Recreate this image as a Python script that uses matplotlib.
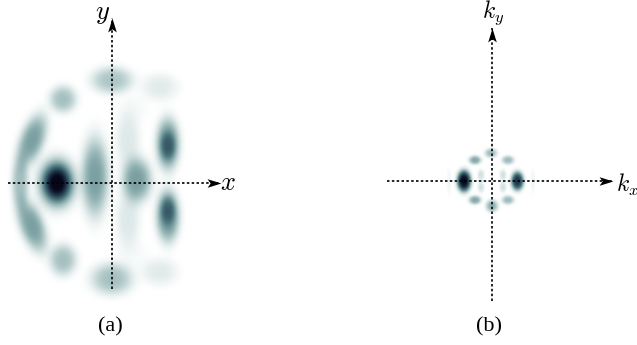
import numpy as np
import matplotlib.pyplot as plt
from matplotlib.colors import LinearSegmentedColormap
from matplotlib.markers import MarkerStyle
from matplotlib.path import Path
from matplotlib.transforms import Affine2D

plt.rcParams["mathtext.fontset"] = "cm"

# density lobes: offset from the axes crossing (px), peak, widths, tilt (deg)
a_x = [-55, -55, -80, -80, -92, -17, 25, 16, 16, 56, 56, 56, 56, 0, 0, -49, -49, 48, 48, 22, 22]
a_y = [0, 0, 43, -43, 0, 6, 3, 43, -37, 39, -33, 37, -27, 103, -96, 84, -77, 96, -89, 74, -72]
a_amp = [0.55, 0.5, 0.36, 0.36, 0.24, 0.36, 0.36, 0.09, 0.09, 0.42, 0.42, 0.22, 0.22, 0.22, 0.24, 0.24, 0.24, 0.08, 0.08, 0.02, 0.02]
a_sx = [15, 10, 10, 10, 7, 11, 12, 10, 10, 9.5, 9.5, 6, 6, 17, 17, 11, 11, 15, 15, 14, 14]
a_sy = [20, 13, 22, 22, 22, 32, 18, 24, 24, 21, 21, 11, 11, 11, 13, 11, 13, 11, 11, 12, 12]
a_tilt = [0, 0, -20, 20, 0, 0, 0, 0, 0, 0, 0, 0, 0, 0, 0, 0, 0, 0, 0, 0, 0]

b_x = [-28, 25.5, -17, 16, -1, -17, 16, 0, -11, 11, -11, 11, -43, 41]
b_y = [0, 0, 21, 21, 28, -19, -19, -25, 6, 6, -6, -6, 0, 0]
b_amp = [1.0, 0.8, 0.33, 0.26, 0.26, 0.33, 0.26, 0.3, 0.12, 0.12, 0.12, 0.12, 0.04, 0.04]
b_sx = [5.5, 5, 5, 5, 5, 5, 5, 5, 2.8, 2.8, 2.8, 2.8, 1.8, 1.8]
b_sy = [8.5, 7.5, 3.6, 3.6, 3.8, 3.6, 3.6, 5, 4.5, 4.5, 4.5, 4.5, 10, 10]
b_tilt = [0] * 14

cmap = LinearSegmentedColormap.from_list(
    "dens",
    [(0, "#ffffff"), (0.15, "#c8d9d9"), (0.3, "#8fb0b1"), (0.5, "#4f7a80"), (0.75, "#243f52"), (1, "#07071c")],
)

# stealth style arrow head, pointing right
head = Path(
    [(1, 0), (-1, 0.62), (-0.55, 0), (-1, -0.62), (1, 0)],
    [Path.MOVETO, Path.LINETO, Path.LINETO, Path.LINETO, Path.CLOSEPOLY],
)


def density(xs, ys, amps, sxs, sys, tilts, half):
    gx, gy = np.meshgrid(np.linspace(-half, half, 500), np.linspace(-half, half, 500))
    z = np.zeros_like(gx)
    for x0, y0, amp, sx, sy, tilt in zip(xs, ys, amps, sxs, sys, tilts):
        t = np.radians(tilt)
        u = (gx - x0) * np.cos(t) + (gy - y0) * np.sin(t)
        v = -(gx - x0) * np.sin(t) + (gy - y0) * np.cos(t)
        # flatter top and firmer edge than a plain gaussian
        r2 = (u / sx) ** 2 + (v / sy) ** 2
        z += amp * np.exp(-0.6 * r2**1.5)
    return z


def dotted_arrow(ax, start, end, angle):
    ax.plot([start[0], end[0]], [start[1], end[1]], color="black", lw=1.2, ls=(0, (1.5, 1.4)), zorder=3)
    back = 6.5
    mx = end[0] - back * np.cos(np.radians(angle))
    my = end[1] + back * np.sin(np.radians(angle))
    style = MarkerStyle(head, transform=Affine2D().rotate_deg(angle))
    ax.plot([mx], [my], marker=style, ms=10, color="black", mew=0, zorder=4)


fig = plt.figure(figsize=(6.37, 3.45), dpi=100)
ax = fig.add_axes([0, 0, 1, 1])

z_a = density(a_x, a_y, a_amp, a_sx, a_sy, a_tilt, 125)
ax.imshow(z_a, extent=(112 - 125, 112 + 125, 183 + 125, 183 - 125), origin="lower", cmap=cmap, vmin=0, vmax=1, interpolation="bilinear")
z_b = density(b_x, b_y, b_amp, b_sx, b_sy, b_tilt, 60)
ax.imshow(z_b, extent=(491.5 - 60, 491.5 + 60, 181 + 60, 181 - 60), origin="lower", cmap=cmap, vmin=0, vmax=1, interpolation="bilinear")

ax.set_xlim(0, 637)
ax.set_ylim(345, 0)
ax.axis("off")

dotted_arrow(ax, (8, 183), (220, 183), 0)
dotted_arrow(ax, (112, 289), (112, 18), 90)
dotted_arrow(ax, (387, 181), (612, 181), 0)
dotted_arrow(ax, (491.5, 301), (491.5, 28), 90)

ax.text(228, 183, "$x$", fontsize=19, ha="center", va="center")
ax.text(103, 13, "$y$", fontsize=19, ha="center", va="center")
ax.text(627, 185, "$k_x$", fontsize=17, ha="center", va="center")
ax.text(493, 13, "$k_y$", fontsize=17, ha="center", va="center")
ax.text(110, 327, "(a)", fontsize=16, family="Liberation Serif", ha="center", va="center")
ax.text(489, 327, "(b)", fontsize=16, family="Liberation Serif", ha="center", va="center")

plt.savefig("out.png", dpi=100)
